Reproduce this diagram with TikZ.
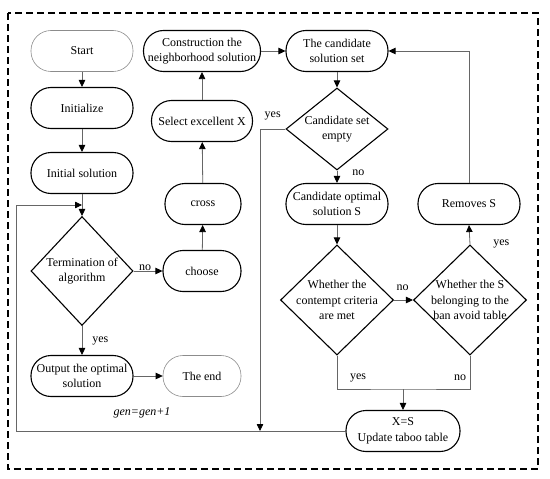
\documentclass[tikz,border=0pt]{standalone}
\usepackage{fontspec}
\setmainfont{Liberation Serif}
\usetikzlibrary{arrows.meta,shapes.geometric,calc}
\begin{document}
\begin{tikzpicture}[x=1pt,y=-1pt,
  txt/.style={font=\fontsize{12}{15.5}\selectfont, align=center},
  box/.style={txt, draw=black, line width=1.1pt, rounded corners=20pt,
    minimum height=41pt, minimum width=#1, inner sep=0pt},
  thinbox/.style={box=#1, draw=black!45, line width=0.6pt},
  dia/.style 2 args={diamond, draw=black, line width=1.1pt, inner sep=0pt,
    minimum width=#1, minimum height=#2},
  conn/.style={draw=black!60, line width=0.8pt},
  arr/.style={conn, -{Triangle[length=7pt,width=6.5pt,color=black]}},
  lab/.style={font=\fontsize{12}{14}\selectfont, inner sep=1pt}]
\useasboundingbox (0,0) rectangle (550,479);
\draw[line width=1.3pt, dash pattern=on 7pt off 4pt] (8,13) rectangle (538,469);

% left column
\node[thinbox=102] (start) at (82,51) {Start};
\node[box=102] (init) at (82,108) {Initialize};
\node[box=102] (isol) at (82,173) {Initial solution};
\node[dia={102}{109}, label={[txt]center:Termination of\\algorithm}] (term) at (82,271) {};
\node[box=102] (out) at (82,376) {Output the optimal\\solution};
\node[thinbox=78] (end) at (202,376) {The end};

% middle column
\node[box=78] (choose) at (202,271) {choose};
\node[box=76] (cross) at (203,204) {cross};
\node[box=101] (select) at (202,121) {Select excellent X};
\node[box=117] (constr) at (202,51) {Construction the\\neighborhood solution};

% right part
\node[box=102] (cand) at (337,51) {The candidate\\solution set};
\node[dia={102}{82}, label={[txt]center:Candidate set\\empty}] (empty) at (337,129) {};
\node[box=102] (copt) at (337,204) {Candidate optimal\\solution S};
\node[dia={113}{110}, label={[txt]center:Whether the\\contempt criteria\\are met}] (crit) at (337,300) {};
\node[dia={113}{110}, label={[txt]center:Whether the S\\belonging to the\\ban avoid table}] (ban) at (470,300) {};
\node[box=102] (rem) at (469,204) {Removes S};
\node[box=114] (xs) at (403,431) {X=S\\Update taboo table};

\coordinate (loopin) at (82,205);
\coordinate (yesdown) at (260,431);
\coordinate (merge) at (403,389);

% connectors
\draw[arr] (start) -- (init);
\draw[arr] (init) -- (isol);
\draw[arr] (isol) -- (term.north);
\draw[arr] (term.east) -- node[lab, above, pos=0.4, inner sep=0pt] {no} (choose.west);
\draw[arr] (term.south) -- node[lab, right, inner sep=10pt] {yes} (out.north);
\draw[arr] (out) -- (end);
\draw[arr] (choose) -- (cross);
\draw[arr] (cross) -- (select);
\draw[arr] (select) -- (constr);
\draw[arr] (constr) -- (cand);
\draw[arr] (cand) -- (empty.north);
\draw[arr] (empty.south) -- node[lab, right, pos=0.2, inner sep=15pt] {no} (copt.north);
\draw[arr] (copt) -- (crit.north);
\draw[arr] (crit.east) -- node[lab, above, pos=0.45, inner sep=9pt] {no} (ban.west);
\draw[arr] (ban.north) -- node[lab, pos=0, anchor=west, xshift=22pt] {yes} (rem.south);
\draw[arr] (rem.north) |- (cand.east);
\draw[arr] (empty.west) -| node[lab, above, pos=0.25, inner sep=9pt] {yes} (yesdown);
\draw[conn] (crit.south) |- (merge) -| (ban.south);
\node[lab] (yeslab) at (358,378) {yes};
\node[lab] (nolab) at (460,378) {no};
\draw[arr] (merge) -- (xs.north);
\draw[arr] (xs.west) -- (16,431) -- (16,205) -- (loopin);
\node[lab, font=\fontsize{12}{14}\selectfont\itshape] (gen) at (142,413) {gen=gen+1};
\end{tikzpicture}
\end{document}
